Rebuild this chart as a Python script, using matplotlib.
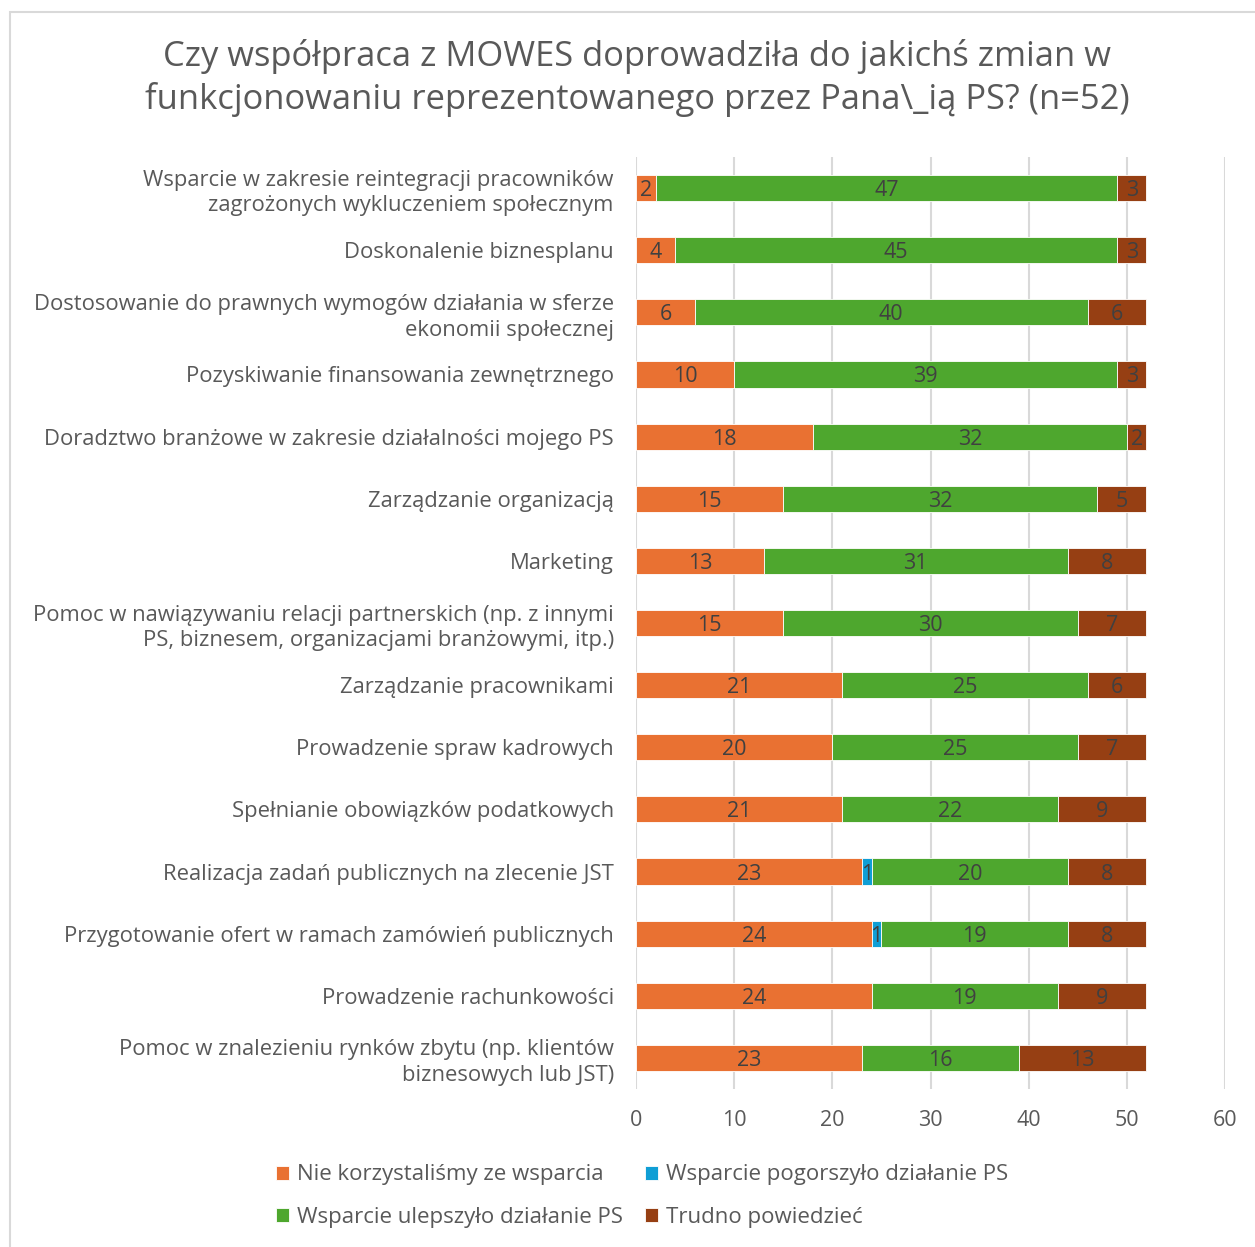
import numpy as np
import matplotlib.pyplot as plt
from matplotlib.patches import Rectangle

plt.rcParams['font.family'] = ['Open Sans', 'DejaVu Sans']

# kategorie od góry do dołu
categories = [
    'Wsparcie w zakresie reintegracji pracowników\nzagrożonych wykluczeniem społecznym',
    'Doskonalenie biznesplanu',
    'Dostosowanie do prawnych wymogów działania w sferze\nekonomii społecznej',
    'Pozyskiwanie finansowania zewnętrznego',
    'Doradztwo branżowe w zakresie działalności mojego PS',
    'Zarządzanie organizacją',
    'Marketing',
    'Pomoc w nawiązywaniu relacji partnerskich (np. z innymi\nPS, biznesem, organizacjami branżowymi, itp.)',
    'Zarządzanie pracownikami',
    'Prowadzenie spraw kadrowych',
    'Spełnianie obowiązków podatkowych',
    'Realizacja zadań publicznych na zlecenie JST',
    'Przygotowanie ofert w ramach zamówień publicznych',
    'Prowadzenie rachunkowości',
    'Pomoc w znalezieniu rynków zbytu (np. klientów\nbiznesowych lub JST)',
]

nie_korzystalismy = [2, 4, 6, 10, 18, 15, 13, 15, 21, 20, 21, 23, 24, 24, 23]
pogorszylo = [0, 0, 0, 0, 0, 0, 0, 0, 0, 0, 0, 1, 1, 0, 0]
ulepszylo = [47, 45, 40, 39, 32, 32, 31, 30, 25, 25, 22, 20, 19, 19, 16]
trudno = [3, 3, 6, 3, 2, 5, 8, 7, 6, 7, 9, 8, 8, 9, 13]

series = [
    ('Nie korzystaliśmy ze wsparcia', nie_korzystalismy, '#E97132'),
    ('Wsparcie pogorszyło działanie PS', pogorszylo, '#0F9ED5'),
    ('Wsparcie ulepszyło działanie PS', ulepszylo, '#4EA72E'),
    ('Trudno powiedzieć', trudno, '#963F13'),
]

fig = plt.figure(figsize=(12.55, 12.47), dpi=100)
fig.patches.append(Rectangle((10 / 1255, -0.01), 1.0, 1 - 12 / 1247 + 0.01,
                             transform=fig.transFigure, fill=False,
                             edgecolor='#D9D9D9', linewidth=1.5))

ax = fig.add_axes([636 / 1255, 1 - 1089 / 1247, 589 / 1255, 932 / 1247])

y = np.arange(len(categories))
left = np.zeros(len(categories))
bars = {}
for name, vals, col in series:
    vals = np.array(vals, dtype=float)
    b = ax.barh(y, vals, left=left, height=0.42, color=col,
                edgecolor='white', linewidth=0.6, label=name, zorder=3)
    bars[name] = b
    for yi, l, v in zip(y, left, vals):
        if v > 0:
            ax.text(l + v / 2, yi, f'{int(v)}', ha='center', va='center_baseline',
                    fontsize=15.5, color='#404040', zorder=4)
    left += vals

ax.set_xlim(0, 60)
ax.set_ylim(len(categories) - 0.5, -0.5)
ax.set_xticks(range(0, 61, 10))
ax.set_yticks(y)
ax.set_yticklabels(categories, fontsize=15.8, color='#595959', linespacing=1.3)
ax.tick_params(axis='x', labelsize=15.5, labelcolor='#595959', length=0, pad=15)
ax.tick_params(axis='y', length=0, pad=16)
ax.grid(axis='x', color='#D9D9D9', linewidth=1.5, zorder=0)
for s in ax.spines.values():
    s.set_visible(False)

fig.text(637 / 1255, 1 - 78 / 1247,
         'Czy współpraca z MOWES doprowadziła do jakichś zmian w\n'
         'funkcjonowaniu reprezentowanego przez Pana\\_ią PS? (n=52)',
         ha='center', va='center', fontsize=24.8, color='#595959', linespacing=1.3)

order = ['Nie korzystaliśmy ze wsparcia', 'Wsparcie ulepszyło działanie PS',
         'Wsparcie pogorszyło działanie PS', 'Trudno powiedzieć']
fig.legend([bars[k] for k in order], order, ncol=2, loc='center',
           bbox_to_anchor=(642 / 1255, 1 - 1196 / 1247), frameon=False,
           fontsize=16, labelcolor='#595959', handlelength=0.6, handleheight=0.6,
           handletextpad=0.35, columnspacing=1.0, labelspacing=0.95)

fig.savefig('out.png', dpi=100)
